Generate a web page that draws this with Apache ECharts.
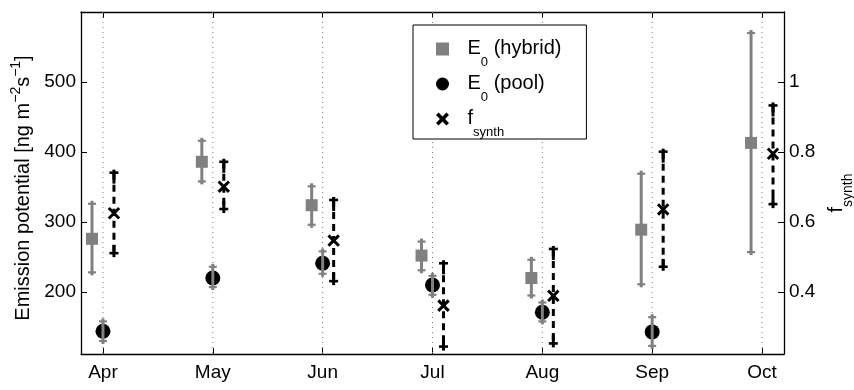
<!DOCTYPE html>
<html>
<head>
<meta charset="utf-8">
<script src="https://cdn.jsdelivr.net/npm/echarts@6/dist/echarts.min.js"></script>
<style>
  html, body { margin: 0; padding: 0; background: #fff; }
  #chart { width: 854px; height: 390px; }
</style>
</head>
<body>
<div id="chart"></div>
<script>
// Monthly emission potentials (left axis) and synthesis fraction (right axis)
const months = ['Apr', 'May', 'Jun', 'Jul', 'Aug', 'Sep', 'Oct'];

const hybridE0   = [276, 386, 324, 252, 220, 289, 413];
const hybridLow  = [228, 358, 296, 231, 195, 211, 257];
const hybridHigh = [326, 416, 351, 272, 246, 369, 570];

const poolE0   = [144, 220, 241, 210, 171, 143, null];
const poolLow  = [130, 207, 226, 196, 158, 123, null];
const poolHigh = [158, 236, 258, 223, 185, 164, null];

const fSynth     = [0.625, 0.701, 0.547, 0.361, 0.389, 0.636, 0.795];
const fSynthLow  = [0.511, 0.637, 0.431, 0.244, 0.253, 0.472, 0.651];
const fSynthHigh = [0.741, 0.772, 0.663, 0.482, 0.523, 0.801, 0.933];

const leftTicks  = [200, 300, 400, 500];
const rightTicks = [0.4, 0.6, 0.8, 1];

const FONT = '"Liberation Sans", Arial, Helvetica, sans-serif';
const GRAY = '#808080';
const SHIFT = 0.1; // horizontal separation of the three estimates within a month

const chart = echarts.init(document.getElementById('chart'), null, { renderer: 'canvas' });

function rows(center, low, high) {
  const out = [];
  months.forEach((m, i) => {
    if (center[i] != null) out.push([i, center[i], low[i], high[i]]);
  });
  return out;
}

function vLine(x, y1, y2, stroke, width, dash) {
  return {
    type: 'line',
    shape: { x1: x, y1: y1, x2: x, y2: y2 },
    style: { stroke: stroke, lineWidth: width, lineDash: dash || null }
  };
}
function hLine(x, y, half, stroke, width) {
  return {
    type: 'line',
    shape: { x1: x - half, y1: y, x2: x + half, y2: y },
    style: { stroke: stroke, lineWidth: width }
  };
}

// gray bar with "+" shaped caps
function grayBar(x, yHi, yLo) {
  return [
    vLine(x, yHi - 3, yLo + 3, GRAY, 3),
    hLine(x, yHi, 4, GRAY, 2.2),
    hLine(x, yLo, 4, GRAY, 2.2)
  ];
}

function points(api, dx) {
  const x = api.value(0) + dx;
  return {
    x: api.coord([x, api.value(1)])[0],
    yc: api.coord([x, api.value(1)])[1],
    yLo: api.coord([x, api.value(2)])[1],
    yHi: api.coord([x, api.value(3)])[1]
  };
}

const renderHybrid = (params, api) => {
  const p = points(api, -SHIFT);
  return {
    type: 'group',
    children: grayBar(p.x, p.yHi, p.yLo).concat([{
      type: 'rect',
      shape: { x: p.x - 6, y: p.yc - 6, width: 12, height: 12 },
      style: { fill: GRAY }
    }])
  };
};

const renderPool = (params, api) => {
  const p = points(api, 0);
  return {
    type: 'group',
    children: [{
      type: 'circle',
      shape: { cx: p.x, cy: p.yc, r: 7.5 },
      style: { fill: '#000' }
    }].concat(grayBar(p.x, p.yHi, p.yLo))
  };
};

const renderSynth = (params, api) => {
  const p = points(api, SHIFT);
  const s = 5.2;
  return {
    type: 'group',
    children: [
      vLine(p.x, p.yHi, p.yLo, '#000', 3, [7, 5]),
      vLine(p.x, p.yHi - 3, p.yHi + 11, '#000', 3),
      vLine(p.x, p.yLo - 8, p.yLo + 4, '#000', 3),
      hLine(p.x, p.yHi, 4.5, '#000', 2.6),
      hLine(p.x, p.yLo, 4.5, '#000', 2.6),
      { type: 'line', shape: { x1: p.x - s, y1: p.yc - s, x2: p.x + s, y2: p.yc + s }, style: { stroke: '#000', lineWidth: 3 } },
      { type: 'line', shape: { x1: p.x - s, y1: p.yc + s, x2: p.x + s, y2: p.yc - s }, style: { stroke: '#000', lineWidth: 3 } }
    ]
  };
};

// dotted month guides spanning the plot height
const renderGuide = (params, api) => {
  const cs = params.coordSys;
  const x = api.coord([api.value(0), 300])[0];
  return vLine(x, cs.y, cs.y + cs.height, '#777', 1, [1, 4]);
};

const legendNames = {
  'E0 (hybrid)': '{t|E}{s|0}{t| (hybrid)}',
  'E0 (pool)': '{t|E}{s|0}{t| (pool)}',
  'fsynth': '{t|f}{s|synth}'
};

const xAxisCommon = {
  type: 'value',
  min: -0.2,
  max: 6.2,
  axisLine: { show: true, onZero: false, lineStyle: { color: '#000', width: 1.3 } },
  axisTick: { show: true, inside: true, length: 6, customValues: months.map((m, i) => i), lineStyle: { color: '#000', width: 1 } },
  splitLine: { show: false }
};

const option = {
  animation: false,
  backgroundColor: '#fff',
  textStyle: { fontFamily: FONT },
  grid: { left: 81, right: 70, top: 12, bottom: 36, containLabel: false, outerBoundsMode: 'none' },
  legend: {
    orient: 'vertical',
    left: 413,
    top: 25,
    padding: [13, 25, 0, 23],
    itemWidth: 40,
    itemHeight: 13,
    itemGap: 4,
    backgroundColor: '#fff',
    borderColor: '#000',
    borderWidth: 1,
    borderRadius: 0,
    data: [
      { name: 'E0 (hybrid)', icon: 'path://M0,0L10,0L10,10L0,10Z' },
      { name: 'E0 (pool)', icon: 'circle' },
      { name: 'fsynth', icon: 'path://M0,2L2,0L5,3L8,0L10,2L7,5L10,8L8,10L5,7L2,10L0,8L3,5Z' }
    ],
    formatter: name => legendNames[name],
    textStyle: {
      fontFamily: FONT,
      color: '#000',
      rich: {
        t: { fontSize: 20, lineHeight: 22, verticalAlign: 'top', fontFamily: FONT, color: '#000' },
        s: { fontSize: 13, lineHeight: 13, verticalAlign: 'top', padding: [18, 0, 0, 0], fontFamily: FONT, color: '#000' }
      }
    }
  },
  xAxis: [
    Object.assign({}, xAxisCommon, {
      position: 'bottom',
      axisLabel: {
        show: true,
        customValues: months.map((m, i) => i),
        formatter: v => months[Math.round(v)],
        margin: 9,
        fontSize: 19,
        color: '#000',
        fontFamily: FONT
      }
    }),
    Object.assign({}, xAxisCommon, {
      position: 'top',
      axisLabel: { show: false }
    })
  ],
  yAxis: [
    {
      type: 'value',
      position: 'left',
      min: 111.4,
      max: 600,
      axisLine: { show: true, onZero: false, lineStyle: { color: '#000', width: 1.3 } },
      axisTick: { show: true, inside: true, length: 6, customValues: leftTicks, lineStyle: { color: '#000' } },
      axisLabel: { show: true, customValues: leftTicks, margin: 5, fontSize: 19, color: '#000', fontFamily: FONT },
      splitLine: { show: false },
      name: '{t|Emission potential [ng m}{p|−2}{t|s}{p|−1}{t|]}',
      nameLocation: 'middle',
      nameRotate: 90,
      nameGap: 36,
      nameTextStyle: {
        padding: [0, 10, 0, 0],
        rich: {
          t: { fontSize: 20, lineHeight: 24, verticalAlign: 'bottom', fontFamily: FONT, color: '#000' },
          p: { fontSize: 14, lineHeight: 14, verticalAlign: 'top', fontFamily: FONT, color: '#000' }
        }
      }
    },
    {
      type: 'value',
      position: 'right',
      min: 0.2228,
      max: 1.2,
      axisLine: { show: true, onZero: false, lineStyle: { color: '#000', width: 1.3 } },
      axisTick: { show: true, inside: true, length: 6, customValues: rightTicks, lineStyle: { color: '#000' } },
      axisLabel: { show: true, customValues: rightTicks, margin: 5, fontSize: 19, color: '#000', fontFamily: FONT },
      splitLine: { show: false },
      name: '{t|f}{s|synth}',
      nameLocation: 'middle',
      nameRotate: 90,
      nameGap: 30,
      nameTextStyle: {
        padding: [0, 20, 0, 0],
        rich: {
          t: { fontSize: 20, lineHeight: 22, verticalAlign: 'top', fontFamily: FONT, color: '#000' },
          s: { fontSize: 14, lineHeight: 14, verticalAlign: 'top', padding: [15, 0, 0, 0], fontFamily: FONT, color: '#000' }
        }
      }
    }
  ],
  series: [
    {
      name: 'guides',
      type: 'custom',
      silent: true,
      z: 1,
      renderItem: renderGuide,
      data: months.map((m, i) => [i]),
      encode: { x: 0 }
    },
    {
      name: 'E0 (hybrid)',
      type: 'custom',
      itemStyle: { color: GRAY },
      renderItem: renderHybrid,
      data: rows(hybridE0, hybridLow, hybridHigh),
      encode: { x: 0, y: [1, 2, 3] }
    },
    {
      name: 'E0 (pool)',
      type: 'custom',
      itemStyle: { color: '#000' },
      renderItem: renderPool,
      data: rows(poolE0, poolLow, poolHigh),
      encode: { x: 0, y: [1, 2, 3] }
    },
    {
      name: 'fsynth',
      type: 'custom',
      yAxisIndex: 1,
      itemStyle: { color: '#000' },
      renderItem: renderSynth,
      data: rows(fSynth, fSynthLow, fSynthHigh),
      encode: { x: 0, y: [1, 2, 3] }
    }
  ]
};

chart.setOption(option);
</script>
</body>
</html>
